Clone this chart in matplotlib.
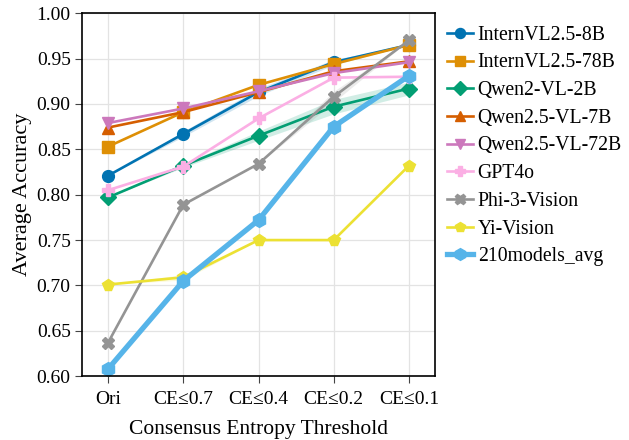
import matplotlib.pyplot as plt
import numpy as np

# data
thresholds = ["Ori", "CE≤0.7", "CE≤0.4", "CE≤0.2", "CE≤0.1"]
models = ["InternVL2.5-8B", "InternVL2.5-78B", "Qwen2-VL-2B", "Qwen2.5-VL-7B",
          "Qwen2.5-VL-72B", "GPT4o", "Phi-3-Vision", "Yi-Vision", "210models_avg"]
internvl_8b = [0.821, 0.867, 0.913, 0.946, 0.965]
internvl_78b = [0.853, 0.891, 0.921, 0.944, 0.965]
qwen2_2b = [0.797, 0.832, 0.865, 0.897, 0.917]
qwen25_7b = [0.874, 0.891, 0.913, 0.936, 0.947]
qwen25_72b = [0.879, 0.895, 0.914, 0.934, 0.946]
gpt4o = [0.805, 0.831, 0.884, 0.929, 0.930]
phi3 = [0.637, 0.789, 0.834, 0.908, 0.970]
yi_vision = [0.701, 0.709, 0.750, 0.750, 0.832]
avg_210 = [0.608, 0.705, 0.772, 0.875, 0.931]
# half widths of the faint error bands
band_8b = [0.0, 0.003, 0.004, 0.003, 0.0]
band_2b = [0.0, 0.002, 0.005, 0.008, 0.007]
band_phi = [0.0, 0.0, 0.0, 0.006, 0.0]
band_yi = [0.0, 0.003, 0.0, 0.0, 0.0]

series = [internvl_8b, internvl_78b, qwen2_2b, qwen25_7b, qwen25_72b,
          gpt4o, phi3, yi_vision, avg_210]
bands = [band_8b, None, band_2b, None, None, None, band_phi, band_yi, None]
colors = ["#0173B2", "#DE8F05", "#029E73", "#D55E00", "#CC78BC",
          "#FBAFE4", "#949494", "#ECE133", "#56B4E9"]
markers = ["o", "s", "D", "^", "v", "P", "X", "p", "h"]

plt.rcParams['font.family'] = ['Liberation Serif', 'DejaVu Serif']

fig, ax = plt.subplots(figsize=(6.29, 4.4), dpi=100)
x = np.arange(len(thresholds))

for name, vals, band, c, m in zip(models, series, bands, colors, markers):
    lw = 3.8 if name == "210models_avg" else 1.9
    ms = 10 if name == "210models_avg" else 8.5
    if band is not None:
        v = np.array(vals)
        b = np.array(band)
        ax.fill_between(x, v - b, v + b, color=c, alpha=0.18, lw=0)
    ax.plot(x, vals, color=c, marker=m, lw=lw, markersize=ms, label=name)

ax.set_xticks(x)
ax.set_xticklabels(thresholds)
ax.set_xlim(-0.35, 4.35)
ax.set_ylim(0.60, 1.00)
ax.set_yticks(np.arange(0.60, 1.001, 0.05))
ax.set_yticklabels(["%.2f" % t for t in np.arange(0.60, 1.001, 0.05)])
ax.grid(True, color="#e3e3e3", lw=0.9)
ax.set_axisbelow(True)
for s in ax.spines.values():
    s.set_color("black")
    s.set_linewidth(1.2)
ax.tick_params(axis='both', labelsize=14, direction='out', length=5,
               color="#444444", pad=6)
ax.tick_params(axis='y', pad=3)
ax.set_xlabel("Consensus Entropy Threshold", fontsize=15.5, labelpad=8)
ax.set_ylabel("Average Accuracy", fontsize=16, labelpad=3)

ax.legend(loc='upper left', bbox_to_anchor=(1.0, 0.998), frameon=False,
          fontsize=14.2, handlelength=1.3, labelspacing=0.44, handletextpad=0.25,
          borderaxespad=0.2, markerscale=0.85)

plt.subplots_adjust(left=0.13, right=0.692, top=0.97, bottom=0.145)
plt.savefig("out.png")
